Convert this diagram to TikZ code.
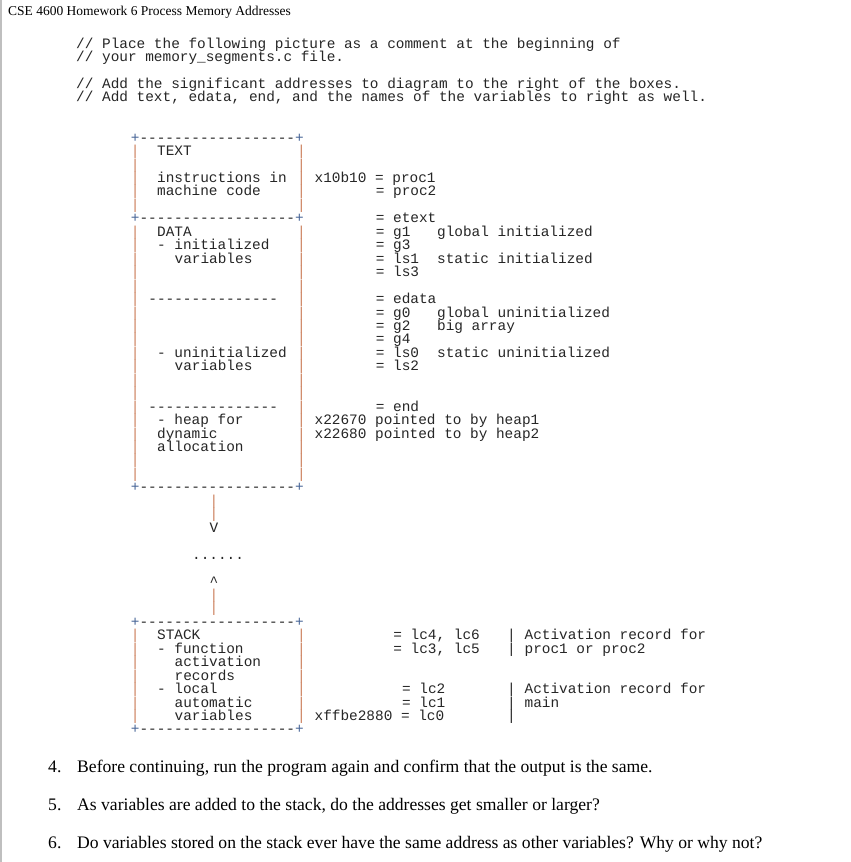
\documentclass[tikz,border=0pt]{standalone}
\usepackage{fontspec}
\setmainfont{Liberation Serif}
\newfontfamily\mono{Liberation Mono}
\definecolor{bar}{RGB}{205,130,95}
\definecolor{plus}{RGB}{70,100,150}
\newcommand\At[3]{\node[txt] at ({130.7+#1*8.75},{48+#2*13.45}) {#3};}
\newcommand\Bar[2]{\node[txt,text=bar] at ({130.7+#1*8.75},{48+#2*13.45}) {|};}
\newcommand\Edge[1]{\At{0}{#1}{\textcolor{plus}{+}------------------\textcolor{plus}{+}}}
\begin{document}
\begin{tikzpicture}[x=1pt,y=-1pt,
  txt/.style={anchor=base west,inner sep=0pt,font=\mono\fontsize{14.4}{14}\selectfont,text=black!85},
  serif/.style={anchor=base west,inner sep=0pt}]
\useasboundingbox (0,0) rectangle (851,862);
\fill[white] (0,0) rectangle (851,862);
\draw[black!25,line width=1.5pt] (0.75,0) -- (0.75,862);
\node[serif,font=\fontsize{13.5}{15}\selectfont] (title) at (8,15) {CSE 4600 Homework 6 Process Memory Addresses};
% comments
\At{-6.25}{0}{// Place the following picture as a comment at the beginning of}
\At{-6.25}{1}{// your memory\_segments.c file.}
\At{-6.25}{3}{// Add the significant addresses to diagram to the right of the boxes.}
\At{-6.25}{4}{// Add text, edata, end, and the names of the variables to right as well.}
% upper box
\Edge{7}
\foreach \r in {8,...,12,14,15,...,32} {\Bar{0}{\r}\Bar{19}{\r}}
\Edge{13}
\Edge{33}
\At{3}{8}{TEXT}
\At{3}{10}{instructions in}
\At{3}{11}{machine code}
\At{21}{10}{x10b10 = proc1}
\At{28}{11}{= proc2}
\At{28}{13}{= etext}
\At{3}{14}{DATA}
\At{3}{15}{- initialized}
\At{5}{16}{variables}
\At{28}{14}{= g1}
\At{35}{14}{global initialized}
\At{28}{15}{= g3}
\At{28}{16}{= ls1}
\At{35}{16}{static initialized}
\At{28}{17}{= ls3}
\At{2}{19}{---------------}
\At{28}{19}{= edata}
\At{28}{20}{= g0}
\At{35}{20}{global uninitialized}
\At{28}{21}{= g2}
\At{35}{21}{big array}
\At{28}{22}{= g4}
\At{3}{23}{- uninitialized}
\At{5}{24}{variables}
\At{28}{23}{= ls0}
\At{35}{23}{static uninitialized}
\At{28}{24}{= ls2}
\At{2}{27}{---------------}
\At{28}{27}{= end}
\At{3}{28}{- heap for}
\At{3}{29}{dynamic}
\At{3}{30}{allocation}
\At{21}{28}{x22670 pointed to by heap1}
\At{21}{29}{x22680 pointed to by heap2}
% arrows
\Bar{9}{34}\Bar{9}{35}
\At{9}{36}{V}
\At{7}{38}{......}
\At{9}{40}{\textasciicircum}
\Bar{9}{41}\Bar{9}{42}
% stack box
\Edge{43}
\foreach \r in {44,...,50} {\Bar{0}{\r}\Bar{19}{\r}}
\Edge{51}
\At{3}{44}{STACK}
\At{3}{45}{- function}
\At{5}{46}{activation}
\At{5}{47}{records}
\At{3}{48}{- local}
\At{5}{49}{automatic}
\At{5}{50}{variables}
\At{30}{44}{= lc4, lc6}
\At{30}{45}{= lc3, lc5}
\At{31}{48}{= lc2}
\At{31}{49}{= lc1}
\At{21}{50}{xffbe2880 = lc0}
\foreach \r in {44,45,48,49,50} {\At{43}{\r}{|}}
\At{45}{44}{Activation record for}
\At{45}{45}{proc1 or proc2}
\At{45}{48}{Activation record for}
\At{45}{49}{main}
% questions
\begin{scope}[every node/.style={serif,font=\fontsize{17.6}{20}\selectfont}]
\node (q4n) at (48,772) {4.}; \node (q4) at (77,772) {Before continuing, run the program again and confirm that the output is the same.};
\node (q5n) at (48,810) {5.}; \node (q5) at (77,810) {As variables are added to the stack, do the addresses get smaller or larger?};
\node (q6n) at (48,848) {6.}; \node (q6) at (77,848) {Do variables stored on the stack ever have the same address as other variables? Why or why not?};
\end{scope}
\end{tikzpicture}
\end{document}
